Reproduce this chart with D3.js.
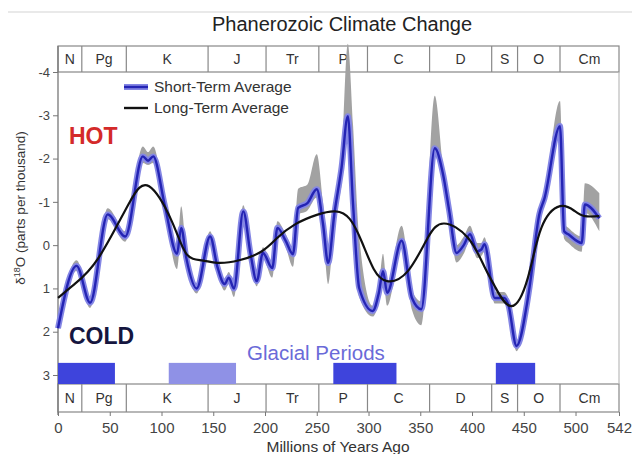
<!DOCTYPE html>
<html><head><meta charset="utf-8">
<script src="https://cdn.jsdelivr.net/npm/d3@7"></script>
<style>body{margin:0;background:#fff}text{font-family:"Liberation Sans",Arial,sans-serif}</style>
</head><body><svg id="c" width="632" height="454"></svg>
<script>
// ---- data ----
const periodNames = ["N","Pg","K","J","Tr","P","C","D","S","O","Cm"];
const periodBounds = [0,23,66,145,201,252,299,359,419,444,485,542];
const xTicks = [0,50,100,150,200,250,300,350,400,450,500,542];
const yTicks = [-4,-3,-2,-1,0,1,2,3];
const glacialStart = [0,107,266,423];
const glacialEnd = [55,172,327,461];
const glacialLight = [false,true,false,false];

const shortAge = [0,18,31,48,65,82,87,92,103,115,119,124,134,147,154,161,165,170,179,186,192,198,207,212,220,227,232,241,250,256,261,267,274,280,285,291,304,310,314,318,332,342,351,364,372,378,385,392,398,405,409,412,422,431,435,443,453,456,465,470,485,489,493,506,509,523];
const shortVal = [1.92,0.48,1.33,-0.71,-0.2,-2.05,-1.95,-2.05,-0.94,0.2,-0.4,0.3,1.0,-0.2,0.5,0.9,0.75,1.0,-0.78,0.2,0.83,0.18,0.53,-0.4,-0.1,0.21,-0.86,-0.97,-1.29,-0.5,0.41,-0.72,-1.8,-2.98,-0.97,0.99,1.52,1.1,0.6,1.1,-0.1,1.22,1.48,-2.24,-1.64,-0.79,0.18,0.0,-0.25,0.14,0.1,-0.02,1.22,1.22,1.37,2.33,1.37,0.9,-0.71,-1.08,-2.75,-0.32,-0.25,-0.05,-0.94,-0.62];
const shortHot = [1.8,0.35,1.2,-0.85,-0.32,-2.28,-2.15,-2.28,-1.05,0.05,-0.9,0.15,0.88,-0.32,0.38,0.78,0.62,0.88,-0.92,0.08,0.7,0.05,0.4,-0.55,-0.25,0.05,-1.3,-1.4,-2.1,-1.0,0.2,-0.9,-2.0,-4.65,-2.8,-0.2,1.4,0.95,0.2,0.95,-0.45,1.05,1.3,-3.45,-1.8,-0.95,0.0,-0.2,-0.45,-0.05,-0.05,-0.18,1.08,1.08,1.22,2.2,1.2,0.7,-0.85,-1.2,-3.33,-0.5,-0.4,-0.2,-1.43,-1.2];
const shortCold = [2.05,0.6,1.45,-0.6,-0.08,-1.9,-1.85,-1.9,-0.82,0.55,-0.25,0.45,1.12,-0.08,0.62,1.05,0.9,1.2,-0.65,0.35,0.95,0.3,0.75,-0.28,0.05,0.5,-0.7,-0.8,-1.1,-0.3,0.9,-0.5,-1.4,-2.7,-0.7,1.2,1.65,1.3,0.75,1.4,0.05,1.5,1.85,-2.05,-1.4,-0.6,0.4,0.2,-0.1,0.3,0.25,0.15,1.35,1.35,1.5,2.45,1.5,1.05,-0.58,-0.95,-2.6,-0.15,-0.05,0.15,-0.75,-0.32];

const longAge = [0,16,39,68,88,110,124,139,154,175,197,212,229,250,268,282,294,305,318,338,357,373,396,412,422,438,454,467,485,499,509,523];
const longVal = [1.22,0.9,0.3,-0.94,-1.36,-0.55,0.2,0.35,0.41,0.35,0.14,-0.17,-0.48,-0.7,-0.78,-0.6,-0.05,0.55,0.83,0.6,-0.16,-0.5,-0.17,0.5,0.95,1.41,0.75,-0.4,-0.9,-0.79,-0.67,-0.67];

// ---- layout ----
const svg = d3.select("#c");
const x = d3.scaleLinear().domain([0,542]).range([58,619]);
const y = d3.scaleLinear().domain([-4,3]).range([72,375]);
const bandTop = [46,72], bandBot = [384,412];

svg.append("rect").attr("width",632).attr("height",454).attr("fill","#fff");
svg.append("line").attr("x1",8).attr("x2",632).attr("y1",12).attr("y2",12).attr("stroke","#e2e2e2").attr("stroke-width",1.5);

svg.append("text").attr("x",342).attr("y",31).attr("text-anchor","middle")
  .attr("font-size",20).attr("fill","#222").text("Phanerozoic Climate Change");

// period bands
function band(y0,y1){
  const g = svg.append("g");
  g.append("rect").attr("x",x(0)).attr("y",y0).attr("width",x(542)-x(0)).attr("height",y1-y0)
    .attr("fill","#fff").attr("stroke","#888").attr("stroke-width",1.2);
  periodBounds.slice(1,-1).forEach(b=>{
    g.append("line").attr("x1",x(b)).attr("x2",x(b)).attr("y1",y0).attr("y2",y1).attr("stroke","#888").attr("stroke-width",1.2);
  });
  periodNames.forEach((n,i)=>{
    g.append("text").attr("x",(x(periodBounds[i])+x(periodBounds[i+1]))/2).attr("y",(y0+y1)/2+5)
      .attr("text-anchor","middle").attr("font-size",14).attr("fill","#333").text(n);
  });
}
band(bandTop[0],bandTop[1]);
band(bandBot[0],bandBot[1]);

// right border
svg.append("line").attr("x1",x(542)).attr("x2",x(542)).attr("y1",bandTop[1]).attr("y2",bandBot[0]).attr("stroke","#bbb").attr("stroke-width",1.2);

// axes
const ya = svg.append("g").attr("transform",`translate(${x(0)},0)`)
  .call(d3.axisLeft(y).tickValues(yTicks).tickSize(5).tickPadding(3).tickFormat(d=>String(d)));
ya.select(".domain").remove();
ya.selectAll("line").attr("stroke","#777");
ya.selectAll("text").attr("font-size",13).attr("fill","#444").style("font-family","Liberation Sans, Arial, sans-serif");
svg.append("line").attr("x1",x(0)).attr("x2",x(0)).attr("y1",bandTop[0]).attr("y2",bandBot[1]+3).attr("stroke","#777").attr("stroke-width",1.3);

const xa = svg.append("g").attr("transform",`translate(0,${bandBot[1]})`)
  .call(d3.axisBottom(x).tickValues(xTicks).tickSize(4).tickPadding(6));
xa.select(".domain").remove();
xa.selectAll("line").attr("stroke","#777");
xa.selectAll("text").attr("font-size",15).attr("fill","#444").style("font-family","Liberation Sans, Arial, sans-serif");

svg.append("text").attr("x",338).attr("y",452).attr("text-anchor","middle").attr("font-size",15.5).attr("fill","#333").text("Millions of Years Ago");
const yt = svg.append("text").attr("transform","translate(25,208) rotate(-90)").attr("text-anchor","middle").attr("font-size",13.5).attr("fill","#333");
yt.append("tspan").text("δ");
yt.append("tspan").attr("font-size",9).attr("dy",-5).text("18");
yt.append("tspan").attr("dy",5).text("O (parts per thousand)");

// glacial bars
glacialStart.forEach((s,i)=>{
  svg.append("rect").attr("x",x(s)).attr("y",y(2.72)).attr("width",x(glacialEnd[i])-x(s)).attr("height",bandBot[0]-y(2.72))
    .attr("fill",glacialLight[i] ? "#8f91e6" : "#3e44dc");
});

// data series
const shortData = shortAge.map((a,i)=>({a,v:shortVal[i],hi:shortHot[i],lo:shortCold[i]}));
const longData = longAge.map((a,i)=>({a,v:longVal[i]}));

svg.append("path").datum(shortData)
  .attr("d",d3.area().x(d=>x(d.a)).y0(d=>y(d.lo)).y1(d=>y(d.hi)).curve(d3.curveMonotoneX))
  .attr("fill","#a2a2a2");
const sl = d3.line().x(d=>x(d.a)).y(d=>y(d.v)).curve(d3.curveMonotoneX);
svg.append("path").datum(shortData).attr("d",sl).attr("fill","none").attr("stroke","#8486e4").attr("stroke-width",6).attr("stroke-linejoin","round");
svg.append("path").datum(shortData).attr("d",sl).attr("fill","none").attr("stroke","#2424b4").attr("stroke-width",2.4).attr("stroke-linejoin","round");
svg.append("path").datum(longData)
  .attr("d",d3.line().x(d=>x(d.a)).y(d=>y(d.v)).curve(d3.curveNatural))
  .attr("fill","none").attr("stroke","#111").attr("stroke-width",2.2);

// legend
svg.append("line").attr("x1",124).attr("x2",148).attr("y1",87).attr("y2",87).attr("stroke","#8486e4").attr("stroke-width",6);
svg.append("line").attr("x1",124).attr("x2",148).attr("y1",87).attr("y2",87).attr("stroke","#2424b4").attr("stroke-width",2.4);
svg.append("line").attr("x1",124).attr("x2",148).attr("y1",108).attr("y2",108).attr("stroke","#111").attr("stroke-width",2.4);
svg.append("text").attr("x",154).attr("y",92).attr("font-size",15.5).attr("fill","#333").text("Short-Term Average");
svg.append("text").attr("x",154).attr("y",113).attr("font-size",15.5).attr("fill","#333").text("Long-Term Average");

// annotations
svg.append("text").attr("x",69).attr("y",144).attr("font-size",23).attr("font-weight","bold").attr("fill","#d42a2a").text("HOT");
svg.append("text").attr("x",69).attr("y",344).attr("font-size",23).attr("font-weight","bold").attr("fill","#15163f").text("COLD");
svg.append("text").attr("x",247).attr("y",360).attr("font-size",20.5).attr("fill","#6a6ad8").text("Glacial Periods");
</script></body></html>
